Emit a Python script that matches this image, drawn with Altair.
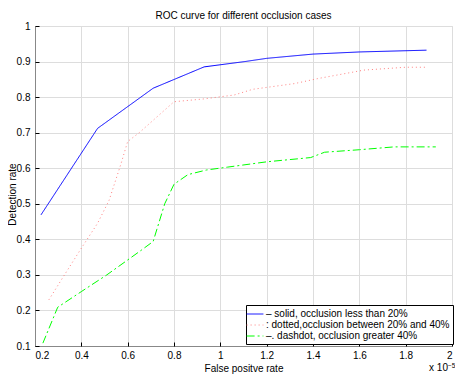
import altair as alt
import pandas as pd

# ---- data ----
labels = [
    "– solid, occlusion less than 20%",
    ": dotted,occlusion between 20% and 40%",
    "–. dashdot, occlusion greater 40%",
]

fp_solid = [0.226, 0.47, 0.71, 0.93, 1.106, 1.20, 1.40, 1.60, 1.89]
tp_solid = [0.469, 0.712, 0.825, 0.885, 0.900, 0.909, 0.921, 0.927, 0.932]

fp_dotted = [0.26, 0.33, 0.40, 0.47, 0.52, 0.57, 0.60, 0.65, 0.80, 0.93, 1.06, 1.14, 1.32, 1.42, 1.62, 1.80, 1.89]
tp_dotted = [0.23, 0.303, 0.375, 0.445, 0.51, 0.61, 0.675, 0.70, 0.787, 0.795, 0.806, 0.822, 0.838, 0.852, 0.876, 0.884, 0.884]

fp_dash = [0.234, 0.298, 0.40, 0.51, 0.66, 0.71, 0.76, 0.80, 0.86, 0.94, 1.03, 1.20, 1.39, 1.45, 1.60, 1.75, 1.93]
tp_dash = [0.108, 0.209, 0.253, 0.30, 0.37, 0.394, 0.50, 0.555, 0.582, 0.595, 0.603, 0.618, 0.630, 0.645, 0.652, 0.660, 0.660]

x_ticks = [0.2, 0.4, 0.6, 0.8, 1.0, 1.2, 1.4, 1.6, 1.8, 2.0]
y_ticks = [0.1, 0.2, 0.3, 0.4, 0.5, 0.6, 0.7, 0.8, 0.9, 1.0]

colors = ["#0000ff", "#ff8080", "#00ff00"]
dashes = [[1, 0], [1, 3], [8, 3, 2, 3]]
widths = [1.0, 1.0, 1.4]

rows = []
for lab, xs, ys in zip(labels, [fp_solid, fp_dotted, fp_dash], [tp_solid, tp_dotted, tp_dash]):
    for i, (a, b) in enumerate(zip(xs, ys)):
        rows.append({"series": lab, "fp": a, "tp": b, "order": i})
df = pd.DataFrame(rows)

FONT = "Liberation Sans"
W, H = 417, 320

xscale = alt.Scale(domain=[0.2, 2.0], nice=False, zero=False)
yscale = alt.Scale(domain=[0.1, 1.0], nice=False, zero=False)

lines = alt.Chart(df).mark_line(clip=True).encode(
    x=alt.X("fp:Q", scale=xscale,
            axis=alt.Axis(values=x_ticks, format="~g", title="False positve rate",
                          orient="bottom", tickSize=0, labelPadding=4,
                          titleFontWeight="normal", titleFontSize=10,
                          titleY=25, titleBaseline="alphabetic", grid=True)),
    y=alt.Y("tp:Q", scale=yscale,
            axis=alt.Axis(values=y_ticks, format="~g", title="Detection rate",
                          orient="left", tickSize=0, labelPadding=5,
                          titleFontWeight="normal", titleFontSize=10,
                          titleX=-23, titleY=H / 2 + 8, titleBaseline="middle",
                          titleAngle=270, grid=True)),
    order="order:Q",
    color=alt.Color("series:N", sort=labels,
                    scale=alt.Scale(domain=labels, range=colors),
                    legend=alt.Legend(title=None, orient="none", legendX=W - 206, legendY=H - 41,
                                      direction="vertical",
                                      symbolType="M-1.6,0L1.6,0",
                                      symbolSize=110, symbolStrokeWidth=1.2,
                                      labelFontSize=10, labelFont=FONT, labelLimit=400,
                                      labelOffset=5, rowPadding=0,
                                      padding=3, strokeColor="black",
                                      fillColor="white")),
    strokeDash=alt.StrokeDash("series:N", sort=labels,
                              scale=alt.Scale(domain=labels, range=dashes), legend=None),
    strokeWidth=alt.StrokeWidth("series:N", scale=alt.Scale(domain=labels, range=widths), legend=None),
)

# inward tick marks (MATLAB style) drawn as a second set of axes pulled into the plot
ticks = alt.Chart(df).mark_point(opacity=0).encode(
    x=alt.X("fp:Q", scale=xscale,
            axis=alt.Axis(values=x_ticks, orient="bottom", offset=-4, tickSize=4,
                          labels=False, domain=False, grid=False, title=None,
                          tickColor="black", tickWidth=1)),
    y=alt.Y("tp:Q", scale=yscale,
            axis=alt.Axis(values=y_ticks, orient="left", offset=-4, tickSize=4,
                          labels=False, domain=False, grid=False, title=None,
                          tickColor="black", tickWidth=1)),
)

exp_df = pd.DataFrame({"t": ["x 10"]})
exp_main = alt.Chart(exp_df).mark_text(align="right", baseline="alphabetic",
                                       fontSize=10, font=FONT, color="black").encode(
    x=alt.value(W - 4), y=alt.value(H + 25), text="t:N")
sup_df = pd.DataFrame({"t": ["−5"]})
exp_sup = alt.Chart(sup_df).mark_text(align="left", baseline="alphabetic",
                                      fontSize=6.5, font=FONT, color="black").encode(
    x=alt.value(W - 4), y=alt.value(H + 21.5), text="t:N")

chart = alt.layer(lines, ticks, exp_main, exp_sup).resolve_axis(
    x="independent", y="independent"
).properties(
    width=W, height=H,
    title=alt.TitleParams("ROC curve for different occlusion cases", fontSize=10,
                          font=FONT, fontWeight="normal", anchor="middle", offset=0,
                          color="black"),
    autosize=alt.AutoSizeParams(type="none"),
    padding={"left": 27, "top": 18, "right": 3, "bottom": 28},
).configure_view(stroke=None).configure_axis(
    domainColor="black", domainWidth=1.2,
    labelFont=FONT, labelFontSize=10, labelColor="black",
    titleFont=FONT, titleFontSize=10, titleFontWeight="normal", titleColor="black",
    gridColor="#444444", gridDash=[1, 3], gridWidth=1, gridOpacity=0.8,
).configure(background="white")

chart.save("out.html", embed_options={"renderer": "svg", "actions": False})
